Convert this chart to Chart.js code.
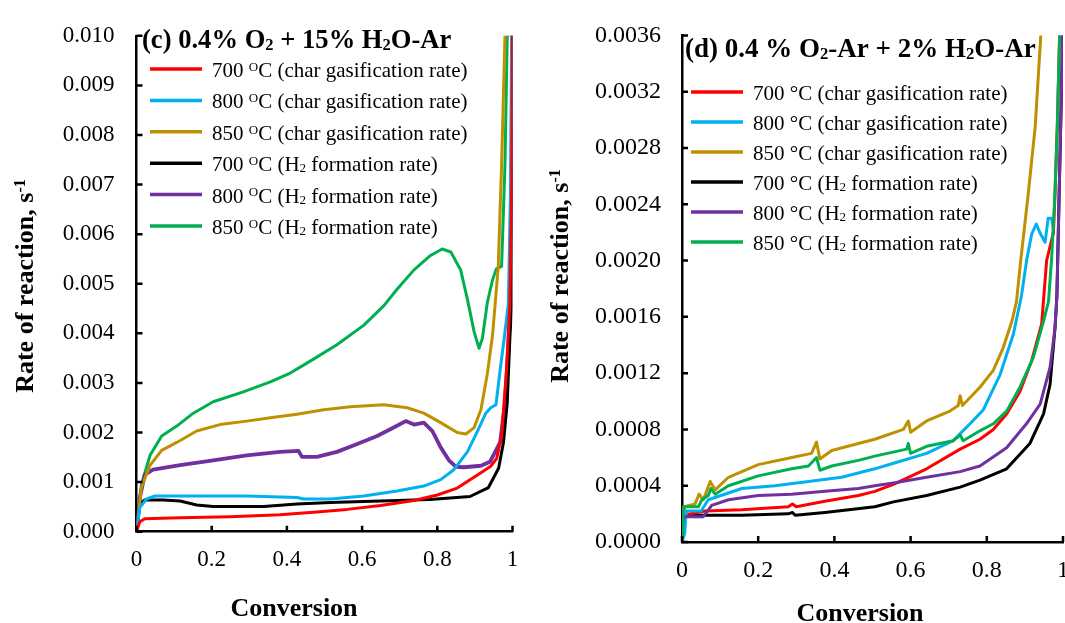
<!DOCTYPE html>
<html lang="en">
<head>
<meta charset="UTF-8">
<title>Rate of reaction vs conversion</title>
<script src="https://cdn.jsdelivr.net/npm/chart.js"></script>
<style>
  body { margin: 0; background: #fff; overflow: hidden; }
  .panel { position: absolute; top: 0; }
  #panelC { left: 0; }
  #panelD { left: 535px; }
</style>
</head>
<body>
<div class="panel" id="panelC"><canvas id="chartC" width="535" height="623"></canvas></div>
<div class="panel" id="panelD"><canvas id="chartD" width="548" height="623"></canvas></div>
<script>
// ---- (c) 0.4% O2 + 15% H2O-Ar, points are [conversion, rate s^-1] ----
const charC700 = [[0,0],[0.009,0.0002],[0.022,0.00026],[0.116,0.00028],[0.249,0.0003],[0.382,0.00034],[0.471,0.00039],[0.56,0.00045],[0.649,0.00053],[0.738,0.00063],[0.8,0.00074],[0.853,0.00088],[0.914,0.00118],[0.942,0.00132],[0.958,0.00148],[0.971,0.00193],[0.984,0.00325],[0.993,0.0046],[0.998,0.007],[1.0,0.0105]];
const charC800 = [[0,0],[0.009,0.00049],[0.027,0.00066],[0.049,0.00072],[0.16,0.00072],[0.293,0.00072],[0.427,0.00069],[0.444,0.00066],[0.516,0.00066],[0.604,0.00072],[0.693,0.00082],[0.764,0.00092],[0.809,0.00105],[0.844,0.00125],[0.88,0.00161],[0.907,0.00203],[0.929,0.00239],[0.942,0.0025],[0.956,0.00256],[0.967,0.00325],[0.978,0.0039],[0.989,0.0046],[0.995,0.007],[0.998,0.0105]];
const charC850 = [[0,0],[0.013,0.00089],[0.036,0.00134],[0.067,0.00164],[0.107,0.0018],[0.16,0.00203],[0.222,0.00216],[0.293,0.00223],[0.356,0.0023],[0.427,0.00237],[0.498,0.00246],[0.569,0.00252],[0.658,0.00256],[0.72,0.0025],[0.764,0.00239],[0.809,0.0022],[0.853,0.002],[0.876,0.00197],[0.898,0.0021],[0.916,0.00246],[0.933,0.00318],[0.947,0.00397],[0.962,0.00533],[0.971,0.0074],[0.98,0.01],[0.982,0.0105]];
const h2C700 = [[0,0],[0.009,0.00056],[0.022,0.00064],[0.071,0.00064],[0.116,0.00062],[0.16,0.00054],[0.204,0.00051],[0.338,0.00051],[0.427,0.00056],[0.516,0.00059],[0.604,0.00061],[0.693,0.00063],[0.78,0.00065],[0.887,0.00071],[0.936,0.00089],[0.963,0.00128],[0.976,0.0018],[0.986,0.0026],[0.993,0.0039],[0.998,0.0046],[1.0,0.0105]];
const h2C800 = [[0,0],[0.009,0.00069],[0.022,0.00115],[0.044,0.00125],[0.116,0.00134],[0.204,0.00144],[0.293,0.00154],[0.382,0.00161],[0.431,0.00163],[0.44,0.00151],[0.48,0.00151],[0.533,0.00161],[0.587,0.00177],[0.64,0.00193],[0.684,0.0021],[0.716,0.00223],[0.738,0.00216],[0.764,0.0022],[0.787,0.00203],[0.809,0.0017],[0.831,0.00144],[0.849,0.00131],[0.871,0.0013],[0.916,0.00133],[0.94,0.00141],[0.967,0.0018],[0.98,0.00259],[0.99,0.00391],[0.993,0.0046],[0.997,0.007],[1.0,0.0105]];
const h2C850 = [[0,0],[0.013,0.00095],[0.036,0.00154],[0.067,0.00193],[0.107,0.00213],[0.151,0.00239],[0.204,0.00262],[0.284,0.00282],[0.356,0.00302],[0.409,0.0032],[0.462,0.00344],[0.533,0.00377],[0.604,0.00416],[0.658,0.00456],[0.693,0.00489],[0.738,0.00528],[0.782,0.00557],[0.813,0.0057],[0.836,0.00564],[0.862,0.00528],[0.88,0.00469],[0.898,0.00403],[0.911,0.0037],[0.92,0.0039],[0.933,0.00462],[0.947,0.00508],[0.957,0.0053],[0.971,0.00535],[0.98,0.0074],[0.986,0.01],[0.988,0.0105]];

// ---- (d) 0.4 % O2-Ar + 2% H2O-Ar ----
const charD700 = [[0,0],[0.003,0.00019],[0.06,0.00022],[0.157,0.00023],[0.279,0.00025],[0.29,0.00027],[0.3,0.00025],[0.375,0.00029],[0.463,0.00033],[0.506,0.00036],[0.555,0.00041],[0.642,0.00052],[0.73,0.00066],[0.782,0.00073],[0.817,0.0008],[0.852,0.00091],[0.887,0.00107],[0.918,0.00129],[0.944,0.00155],[0.957,0.002],[0.975,0.0022],[0.979,0.00248],[0.985,0.00295],[0.992,0.0037]];
const charD800 = [[0,0],[0.007,0.00006],[0.011,0.00022],[0.05,0.00022],[0.069,0.0003],[0.157,0.00038],[0.244,0.0004],[0.332,0.00043],[0.419,0.00046],[0.506,0.00052],[0.555,0.00056],[0.642,0.00063],[0.712,0.00072],[0.756,0.00084],[0.791,0.00094],[0.835,0.00119],[0.87,0.00148],[0.891,0.00175],[0.905,0.00201],[0.918,0.00219],[0.93,0.00226],[0.939,0.0022],[0.953,0.00213],[0.961,0.0023],[0.97,0.0023],[0.975,0.00222]];
const charD850 = [[0,0],[0.003,0.0001],[0.007,0.00025],[0.034,0.00027],[0.045,0.00034],[0.056,0.0003],[0.074,0.00043],[0.087,0.00037],[0.122,0.00046],[0.2,0.00055],[0.288,0.0006],[0.34,0.00063],[0.353,0.00071],[0.362,0.00059],[0.393,0.00065],[0.463,0.0007],[0.506,0.00073],[0.581,0.0008],[0.594,0.00086],[0.6,0.00078],[0.642,0.00086],[0.703,0.00093],[0.725,0.00097],[0.73,0.00104],[0.736,0.00097],[0.782,0.0011],[0.817,0.00122],[0.843,0.00138],[0.866,0.00157],[0.878,0.00171],[0.889,0.002],[0.909,0.00248],[0.927,0.00295],[0.944,0.0037]];
const h2D700 = [[0,0],[0.003,0.00019],[0.157,0.00019],[0.279,0.0002],[0.29,0.00021],[0.297,0.00019],[0.375,0.00021],[0.506,0.00025],[0.555,0.000285],[0.642,0.00033],[0.73,0.00039],[0.782,0.00044],[0.852,0.00052],[0.913,0.0007],[0.949,0.00091],[0.966,0.00112],[0.979,0.00152],[0.984,0.00175],[0.988,0.00224],[1.0,0.0037]];
const h2D800 = [[0,0],[0.003,0.00018],[0.056,0.00018],[0.078,0.00026],[0.122,0.0003],[0.2,0.00033],[0.288,0.00034],[0.375,0.00036],[0.463,0.00038],[0.506,0.0004],[0.555,0.00042],[0.642,0.00046],[0.73,0.0005],[0.782,0.00054],[0.852,0.00067],[0.904,0.00084],[0.94,0.00098],[0.966,0.00124],[0.979,0.00152],[0.984,0.00175],[0.988,0.00224],[1.0,0.0037]];
const h2D850 = [[0,0],[0.003,0.00025],[0.043,0.00025],[0.052,0.0003],[0.069,0.00033],[0.076,0.00038],[0.087,0.00034],[0.122,0.0004],[0.2,0.00047],[0.288,0.00052],[0.332,0.00054],[0.353,0.0006],[0.362,0.00051],[0.393,0.00054],[0.463,0.00058],[0.506,0.00061],[0.59,0.00066],[0.594,0.0007],[0.6,0.00063],[0.642,0.00068],[0.712,0.00072],[0.73,0.00076],[0.738,0.00072],[0.782,0.00079],[0.817,0.00084],[0.852,0.00093],[0.887,0.0011],[0.922,0.00131],[0.949,0.00157],[0.962,0.00171],[0.97,0.00201],[0.979,0.00248],[0.985,0.00295],[0.992,0.0037]];

const seriesColors = ['#FF0000', '#00B0F0', '#BF9000', '#000000', '#7030A0', '#00B050'];
const xTickLabels = ['0', '0.2', '0.4', '0.6', '0.8', '1'];

// legend text: ^..^ is superscript, _.._ is subscript
const legendC = ['700 ^O^C (char gasification rate)', '800 ^O^C (char gasification rate)', '850 ^O^C (char gasification rate)',
                 '700 ^O^C (H_2_ formation rate)', '800 ^O^C (H_2_ formation rate)', '850 ^O^C (H_2_ formation rate)'];
const legendD = ['700 °C (char gasification rate)', '800 °C (char gasification rate)', '850 °C (char gasification rate)',
                 '700 °C (H_2_ formation rate)', '800 °C (H_2_ formation rate)', '850 °C (H_2_ formation rate)'];

const SERIF = "'Liberation Serif', 'Times New Roman', serif";

function drawRich(ctx, text, x, y, size, bold, center) {
  const parts = [];
  text.split(/(\^[^^]*\^|_[^_]*_)/).forEach(s => {
    if (!s) return;
    if (s[0] === '^') parts.push({ t: s.slice(1, -1), k: 0.62, dy: -0.3 });
    else if (s[0] === '_') parts.push({ t: s.slice(1, -1), k: 0.62, dy: 0.06 });
    else parts.push({ t: s, k: 1, dy: 0 });
  });
  const font = k => (bold ? 'bold ' : '') + (size * k).toFixed(1) + 'px ' + SERIF;
  let w = 0;
  parts.forEach(p => { ctx.font = font(p.k); p.w = ctx.measureText(p.t).width; w += p.w; });
  let cx = center ? x - w / 2 : x;
  ctx.textBaseline = 'alphabetic';
  ctx.textAlign = 'left';
  parts.forEach(p => { ctx.font = font(p.k); ctx.fillText(p.t, cx, y + p.dy * size); cx += p.w; });
}

// inward tick marks, panel heading, legend and axis titles
const decorPlugin = {
  id: 'decor',
  afterDraw(chart) {
    const o = chart.options.plugins.decor;
    const { ctx, chartArea: a, scales: { x, y } } = chart;
    ctx.save();
    ctx.strokeStyle = '#000';
    ctx.lineWidth = 2.5;
    ctx.beginPath();
    y.ticks.forEach(t => {
      const py = y.getPixelForValue(t.value);
      ctx.moveTo(a.left, py); ctx.lineTo(a.left + 6, py);
    });
    x.ticks.forEach(t => {
      const px = x.getPixelForValue(t.value);
      ctx.moveTo(px, a.bottom); ctx.lineTo(px, a.bottom - 6);
    });
    ctx.stroke();

    ctx.fillStyle = '#000';
    drawRich(ctx, o.heading, o.headingX, o.headingY, o.headingSize, true, false);

    o.labels.forEach((lab, i) => {
      const ry = o.legendY + i * o.legendGap;
      ctx.strokeStyle = seriesColors[i];
      ctx.lineWidth = 3.5;
      ctx.beginPath();
      ctx.moveTo(o.legendX, ry); ctx.lineTo(o.legendX + 52, ry);
      ctx.stroke();
      ctx.fillStyle = '#000';
      drawRich(ctx, lab, o.legendX + 62, ry + 8, 21, false, false);
    });

    drawRich(ctx, 'Conversion', o.xTitle[0], o.xTitle[1], 26, true, true);
    ctx.translate(o.yTitle[0] + 8.5, o.yTitle[1]);
    ctx.rotate(-Math.PI / 2);
    drawRich(ctx, 'Rate of reaction, s^-1^', 0, 0, 26, true, true);
    ctx.restore();
  }
};

function makePanel(id, series, cfg) {
  const datasets = series.map((pts, i) => ({
    data: pts.map(p => ({ x: p[0], y: p[1] })),
    borderColor: seriesColors[i],
    borderWidth: cfg.widths[i],
    order: cfg.orders[i],
    showLine: true,
    pointRadius: 0,
    tension: 0,
    borderJoinStyle: 'round'
  }));
  return new Chart(document.getElementById(id), {
    type: 'scatter',
    data: { datasets },
    options: {
      responsive: false,
      animation: false,
      devicePixelRatio: 1,
      layout: { autoPadding: false, padding: { left: 0, top: cfg.area.top, right: cfg.area.right, bottom: 0 } },
      plugins: {
        legend: { display: false },
        tooltip: { enabled: false },
        decor: cfg.decor
      },
      scales: {
        x: {
          type: 'linear', min: 0, max: 1,
          grid: { display: false, drawTicks: false },
          border: { display: true, color: '#000', width: 2.5 },
          ticks: {
            stepSize: 0.2, padding: cfg.xPad, color: '#000', maxRotation: 0,
            font: { family: SERIF, size: cfg.tickSize },
            callback: (v, i) => xTickLabels[i]
          },
          afterFit: s => { s.height = cfg.area.xHeight; }
        },
        y: {
          type: 'linear', min: 0, max: cfg.yMax,
          grid: { display: false, drawTicks: false },
          border: { display: true, color: '#000', width: 2.5 },
          ticks: {
            stepSize: cfg.yStep, padding: cfg.yPad, color: '#000',
            font: { family: SERIF, size: cfg.tickSize },
            callback: v => v.toFixed(cfg.yDigits)
          },
          afterFit: s => { s.width = cfg.area.left; }
        }
      }
    },
    plugins: [decorPlugin]
  });
}

makePanel('chartC', [charC700, charC800, charC850, h2C700, h2C800, h2C850], {
  area: { left: 136.5, top: 23, right: 22.5, xHeight: 91.3 },
  yMax: 0.010, yStep: 0.001, yDigits: 3, tickSize: 23, xPad: 14, yPad: 22,
  widths: [3, 3, 3, 3, 3.8, 3],
  orders: [0, 0, 0, 0, 0, 0],
  decor: {
    heading: '(c) 0.4% O_2_ + 15% H_2_O-Ar', headingX: 142, headingY: 48, headingSize: 26.6,
    labels: legendC, legendX: 150, legendY: 69, legendGap: 31.4,
    xTitle: [294, 616], yTitle: [24, 286]
  }
});

// the right canvas runs past the window edge so the last x label is cut like the page border
makePanel('chartD', [charD700, charD800, charD850, h2D700, h2D800, h2D850], {
  area: { left: 147, top: 32.5, right: 0, xHeight: 81 },
  yMax: 0.0036, yStep: 0.0004, yDigits: 4, tickSize: 24, xPad: 14, yPad: 21,
  widths: [3, 3, 3, 3, 3, 3],
  orders: [3, 2, 2, 4, 1, 0],
  decor: {
    heading: '(d) 0.4 % O_2_-Ar + 2% H_2_O-Ar', headingX: 150, headingY: 57, headingSize: 27,
    labels: legendD, legendX: 156, legendY: 92, legendGap: 30,
    xTitle: [325, 621], yTitle: [24, 276]
  }
});
</script>
</body>
</html>
